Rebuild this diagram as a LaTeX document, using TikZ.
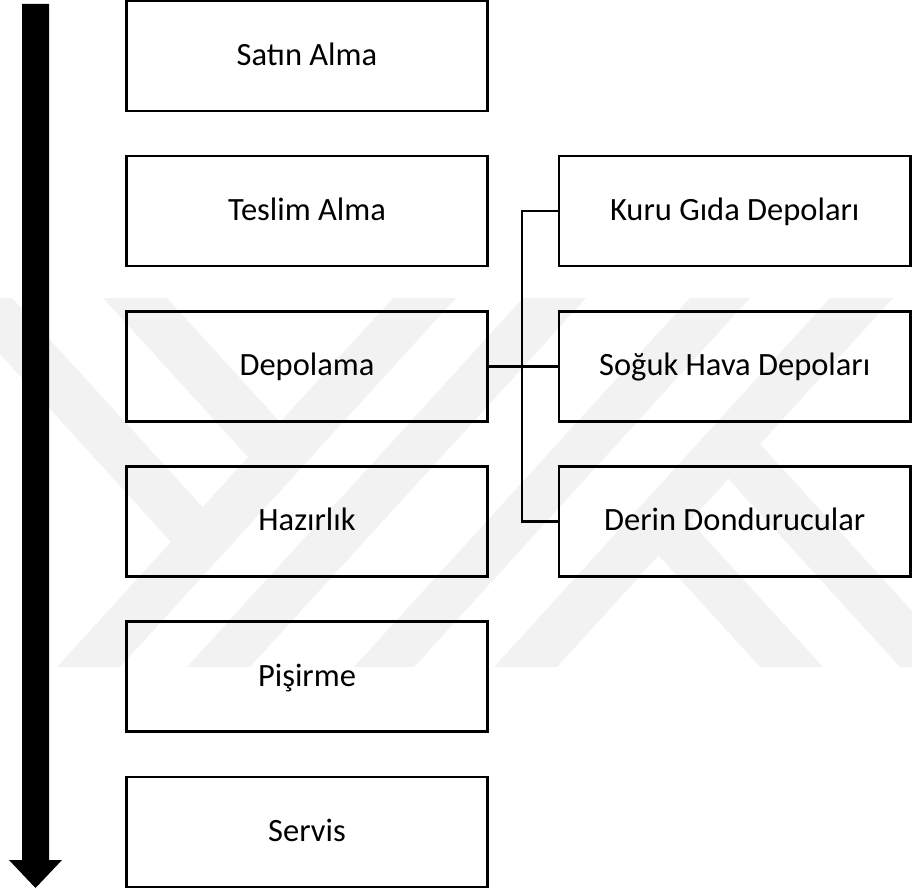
\documentclass[tikz,border=0pt]{standalone}
\usepackage{fontspec}
\setmainfont{Carlito}
\begin{document}
\begin{tikzpicture}[x=1pt,y=-1pt,
  box/.style={draw=black, line width=2.6pt, minimum width=361pt, minimum height=110pt,
    inner sep=0pt, text height=24pt, text depth=5.4pt, font=\fontsize{32.5}{38}\selectfont},
  rbox/.style={box, minimum width=351.5pt},
  link/.style={draw=black, line width=2.4pt},
  wm/.style={fill=black!5, draw=none}]
\useasboundingbox (0,0) rectangle (912,888);
% faint watermark
\fill[wm] (103,298) -- (167,298) -- (280,422) -- (248,457) -- cycle;
\fill[wm] (-51,298) -- (12,298) -- (202.5,507) -- (171,542) -- cycle;
\fill[wm] (393,298) -- (456,298) -- (120,667) -- (57,667) -- cycle;
\fill[wm] (523,298) -- (586,298) -- (250,667) -- (187,667) -- cycle;
\fill[wm] (690,298) -- (750,298) -- (414,667) -- (354,667) -- cycle;
\fill[wm] (830,298) -- (893,298) -- (557,667) -- (494,667) -- cycle;
\fill[wm] (690,521) -- (658.5,555.5) -- (760,667) -- (823,667) -- cycle;
\fill[wm] (760,444) -- (728.5,479) -- (900,667) -- (963,667) -- cycle;
% time arrow
\fill[black] (22,4) -- (49,4) -- (49,860) -- (62,860) -- (35.5,888) -- (9,860) -- (22,860) -- cycle;
% process boxes
\node[box] (satin) at (307,56) {Satın Alma};
\node[box] (teslim) at (307,211) {Teslim Alma};
\node[box] (depo) at (307,366.3) {Depolama};
\node[box] (hazir) at (307,521.5) {Hazırlık};
\node[box] (pisir) at (307,676.7) {Pişirme};
\node[box] (servis) at (307,831.8) {Servis};
% storage types
\node[rbox] (kuru) at (734.75,211) {Kuru Gıda Depoları};
\node[rbox] (soguk) at (734.75,366.3) {Soğuk Hava Depoları};
\node[rbox] (derin) at (734.75,521.5) {Derin Dondurucular};
% connectors
\draw[link] (depo.east) -- (soguk.west);
\draw[link] (kuru.west) -- ++(-36,0) |- (derin.west);
\end{tikzpicture}
\end{document}
